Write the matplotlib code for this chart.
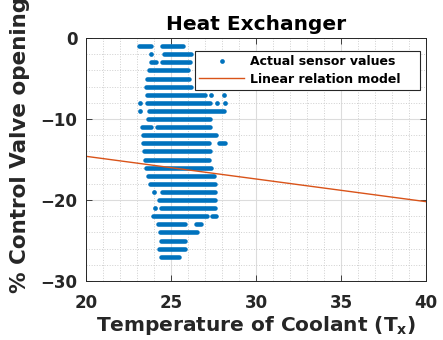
import numpy as np
import matplotlib
matplotlib.use('Agg')
from matplotlib import pyplot as plt
from matplotlib.ticker import MultipleLocator

# SENSOR DATA (each row = one valve opening level, dense runs of readings)
valve_rows = [-1, -2, -3, -4, -5, -6, -7, -8, -9, -10, -11, -12, -13, -14,
              -15, -16, -17, -18, -19, -20, -21, -22, -23, -24, -25, -26, -27]
# runs of temperature readings (start, end) on each row
row_runs = [
    [(23.1, 23.8), (24.5, 25.7)],
    [(24.6, 26.2)],
    [(23.8, 24.1), (24.5, 26.1)],
    [(23.7, 26.0)],
    [(23.6, 26.05)],
    [(23.55, 26.2)],
    [(23.6, 27.0)],
    [(23.6, 27.3)],
    [(23.7, 28.1)],
    [(23.65, 27.3)],
    [(23.3, 23.85), (24.2, 27.3)],
    [(23.35, 27.65)],
    [(23.35, 27.25), (27.8, 28.15)],
    [(23.4, 27.3)],
    [(23.45, 27.25)],
    [(23.55, 27.35)],
    [(23.65, 27.55)],
    [(23.75, 27.6)],
    [(24.45, 27.6)],
    [(24.3, 27.6)],
    [(24.4, 27.6)],
    [(23.95, 27.1), (27.4, 27.65)],
    [(24.25, 25.8), (26.5, 26.75)],
    [(24.35, 26.55)],
    [(24.4, 25.8)],
    [(24.3, 25.8)],
    [(24.4, 25.5)],
]
# isolated readings
single_t = [23.82, 27.35, 28.14, 23.18, 27.7, 28.2, 23.18, 24.0, 24.05]
single_v = [-2, -7, -7, -8, -8, -8, -9, -19, -21]

# LINEAR RELATION MODEL
model_t = [20, 40]
model_v = [-14.6, -20.2]

blue = '#0072BD'
orange = '#D95319'
dark = '#262626'

plt.rcParams['font.family'] = 'DejaVu Sans'
plt.rcParams['font.weight'] = 'bold'

fig = plt.figure(figsize=(4.43, 3.40), dpi=100)
ax = fig.add_axes([0.194, 0.1735, 0.7676, 0.7145])

for v, runs in zip(valve_rows, row_runs):
    for t0, t1 in runs:
        ax.plot([t0, t1], [v, v], color=blue, linewidth=3.3, solid_capstyle='round')
ax.plot(single_t, single_v, 'o', color=blue, markersize=3.4, markeredgewidth=0,
        label='Actual sensor values')
ax.plot(model_t, model_v, color=orange, linewidth=1.0, label='Linear relation model')

ax.set_xlim(20, 40)
ax.set_ylim(-30, 0)
ax.xaxis.set_major_locator(MultipleLocator(5))
ax.xaxis.set_minor_locator(MultipleLocator(1))
ax.yaxis.set_major_locator(MultipleLocator(10))
ax.yaxis.set_minor_locator(MultipleLocator(2))

ax.grid(which='major', color='#dcdcdc', linestyle='-', linewidth=0.8)
ax.grid(which='minor', color='#cfcfcf', linestyle=':', linewidth=0.7)
ax.set_axisbelow(True)

ax.tick_params(which='both', direction='in', top=True, right=True, colors=dark,
               labelsize=12, width=0.6)
ax.tick_params(which='major', length=4)
ax.tick_params(which='minor', length=0)
ax.tick_params(axis='x', pad=9)
ax.tick_params(axis='y', pad=6)
for lab in ax.get_xticklabels() + ax.get_yticklabels():
    lab.set_fontweight('bold')
for sp in ax.spines.values():
    sp.set_color(dark)
    sp.set_linewidth(0.7)

ax.set_title('Heat Exchanger', fontsize=14.5, weight='bold', pad=6)
ax.set_xlabel('Temperature of Coolant (T$_\\mathbf{x}$)', fontsize=14.5, weight='bold',
              color=dark, labelpad=2)
ax.set_ylabel('% Control Valve opening', fontsize=15.5, weight='bold', color=dark)
ax.yaxis.set_label_coords(-0.165, 0.56)

leg = ax.legend(loc='upper left', bbox_to_anchor=(0.3206, 0.9465, 0.6618, 0.0),
                mode='expand', borderaxespad=0,
                fancybox=False, framealpha=1, edgecolor=dark, numpoints=1,
                prop={'weight': 'bold', 'size': 9}, handlelength=3.6,
                labelspacing=0.35, borderpad=0.35, handletextpad=0.45)
leg.get_frame().set_linewidth(0.8)

plt.savefig('out.png', dpi=100)
